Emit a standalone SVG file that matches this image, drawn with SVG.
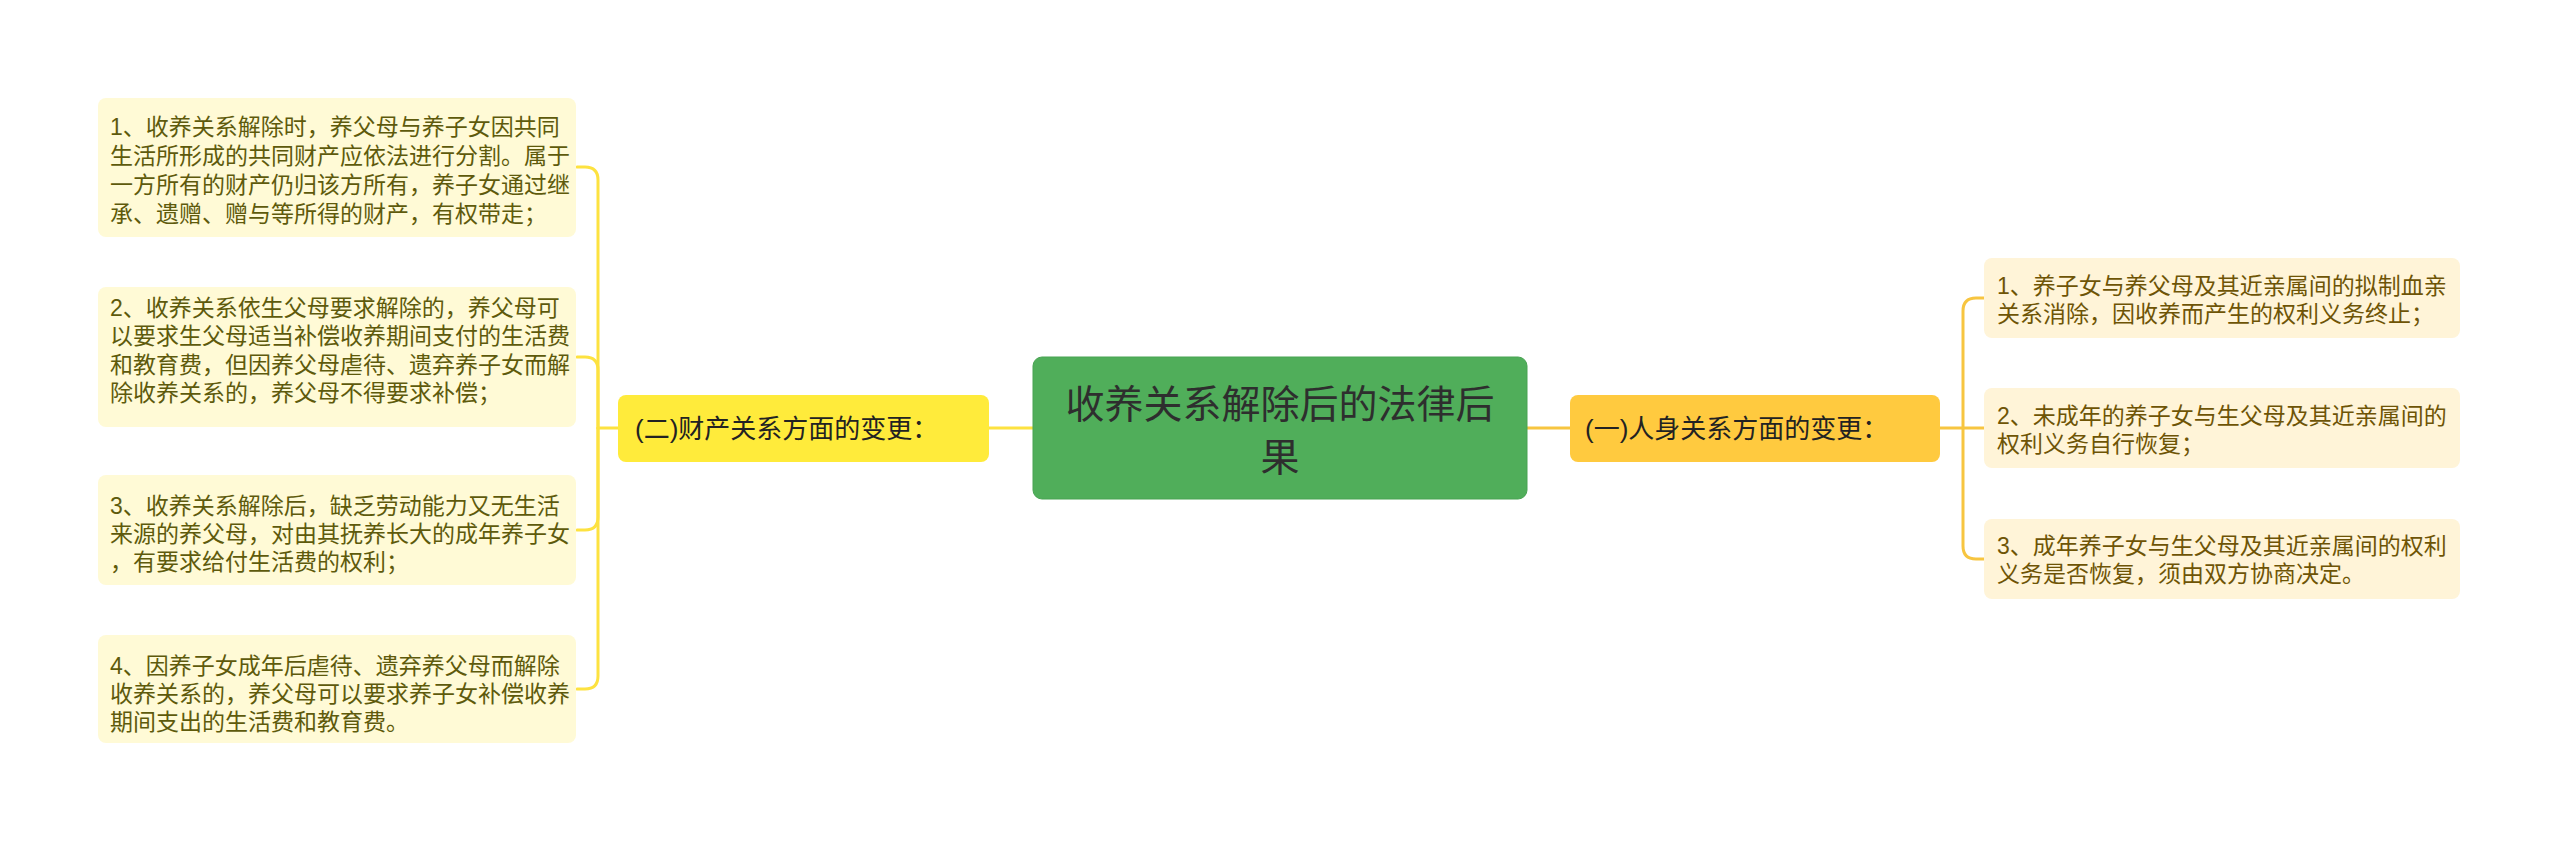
<svg xmlns="http://www.w3.org/2000/svg" width="2560" height="843" viewBox="0 0 2560 843">
<style>
text{font-family:"Liberation Sans","Noto Sans CJK SC",sans-serif;}
.leafL{fill:#FFFAD6;}
.leafR{fill:#FFF4D8;}
.tL{font-size:23px;fill:#5E5A0C;}
.tR{font-size:23px;fill:#6E5406;}
.mid{font-size:26px;fill:#222222;}
.title{font-size:39px;fill:#2E2E2E;text-anchor:middle;}
.cl{fill:none;stroke:#FDE240;stroke-width:3;stroke-linecap:round;}
.cr{fill:none;stroke:#F7C540;stroke-width:3;stroke-linecap:round;}
</style>
<rect width="2560" height="843" fill="#FFFFFF"/>
<g id="connectors">
<path class="cl" d="M988,428 H1033"/>
<path class="cr" d="M1527,428 H1570"/>
<path class="cl" d="M619,428 H598"/>
<path class="cl" d="M598,428 V180 Q598,167 585,167 H577"/>
<path class="cl" d="M598,428 V370 Q598,357 585,357 H577"/>
<path class="cl" d="M598,428 V517 Q598,530 585,530 H577"/>
<path class="cl" d="M598,428 V676 Q598,689 585,689 H577"/>
<path class="cr" d="M1940,428 H1963"/>
<path class="cr" d="M1963,428 V311 Q1963,298 1976,298 H1984"/>
<path class="cr" d="M1963,428 H1984"/>
<path class="cr" d="M1963,428 V546 Q1963,559 1976,559 H1984"/>
</g>
<g id="root">
<rect x="1033" y="357" width="494" height="142" rx="9" fill="#50AE5A" stroke="#48A352" stroke-width="1"/>
<text class="title"><tspan x="1280" y="418">收养关系解除后的法律后</tspan><tspan x="1280" y="471">果</tspan></text>
</g>
<g id="branch-2">
<rect x="618" y="395" width="371" height="67" rx="8" fill="#FFEB3B"/>
<text class="mid" x="635" y="438">(二)财产关系方面的变更：</text>
</g>
<g id="branch-1">
<rect x="1570" y="395" width="370" height="67" rx="8" fill="#FFCA3F"/>
<text class="mid" x="1585" y="438">(一)人身关系方面的变更：</text>
</g>
<g id="leaf-2-1">
<rect class="leafL" x="98" y="98" width="478" height="139" rx="8"/>
<text class="tL"><tspan x="110" y="135">1、收养关系解除时，养父母与养子女因共同</tspan><tspan x="110" y="164">生活所形成的共同财产应依法进行分割。属于</tspan><tspan x="110" y="193">一方所有的财产仍归该方所有，养子女通过继</tspan><tspan x="110" y="222">承、遗赠、赠与等所得的财产，有权带走；</tspan></text>
</g>
<g id="leaf-2-2">
<rect class="leafL" x="98" y="287" width="478" height="140" rx="8"/>
<text class="tL"><tspan x="110" y="315.5">2、收养关系依生父母要求解除的，养父母可</tspan><tspan x="110" y="344">以要求生父母适当补偿收养期间支付的生活费</tspan><tspan x="110" y="372.5">和教育费，但因养父母虐待、遗弃养子女而解</tspan><tspan x="110" y="401">除收养关系的，养父母不得要求补偿；</tspan></text>
</g>
<g id="leaf-2-3">
<rect class="leafL" x="98" y="475" width="478" height="110" rx="8"/>
<text class="tL"><tspan x="110" y="513.5">3、收养关系解除后，缺乏劳动能力又无生活</tspan><tspan x="110" y="541.5">来源的养父母，对由其抚养长大的成年养子女</tspan><tspan x="110" y="569.5">，有要求给付生活费的权利；</tspan></text>
</g>
<g id="leaf-2-4">
<rect class="leafL" x="98" y="635" width="478" height="108" rx="8"/>
<text class="tL"><tspan x="110" y="673.5">4、因养子女成年后虐待、遗弃养父母而解除</tspan><tspan x="110" y="701.5">收养关系的，养父母可以要求养子女补偿收养</tspan><tspan x="110" y="729.5">期间支出的生活费和教育费。</tspan></text>
</g>
<g id="leaf-1-1">
<rect class="leafR" x="1984" y="258" width="476" height="80" rx="8"/>
<text class="tR"><tspan x="1997" y="293.5">1、养子女与养父母及其近亲属间的拟制血亲</tspan><tspan x="1997" y="321.5">关系消除，因收养而产生的权利义务终止；</tspan></text>
</g>
<g id="leaf-1-2">
<rect class="leafR" x="1984" y="388" width="476" height="80" rx="8"/>
<text class="tR"><tspan x="1997" y="423.5">2、未成年的养子女与生父母及其近亲属间的</tspan><tspan x="1997" y="451.5">权利义务自行恢复；</tspan></text>
</g>
<g id="leaf-1-3">
<rect class="leafR" x="1984" y="519" width="476" height="80" rx="8"/>
<text class="tR"><tspan x="1997" y="554">3、成年养子女与生父母及其近亲属间的权利</tspan><tspan x="1997" y="582">义务是否恢复，须由双方协商决定。</tspan></text>
</g>
</svg>
